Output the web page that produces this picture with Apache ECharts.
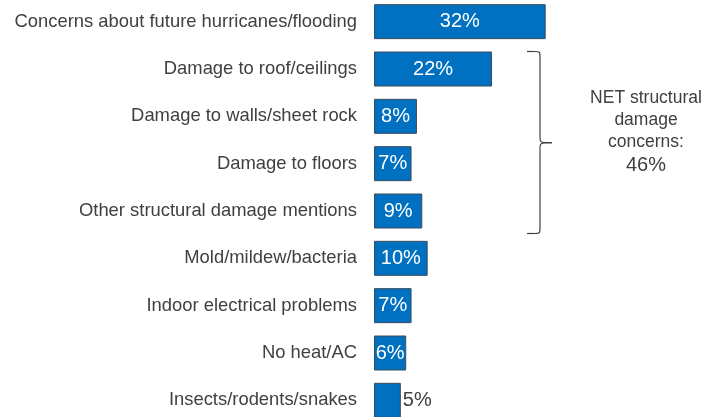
<!DOCTYPE html>
<html>
<head>
<meta charset="utf-8">
<style>
  html, body { margin: 0; padding: 0; background: #ffffff; }
  #chart { width: 707px; height: 417px; }
</style>
<script src="https://cdn.jsdelivr.net/npm/echarts@6/dist/echarts.min.js"></script>
</head>
<body>
<div id="chart"></div>
<script>
// Reasons for concern, top to bottom
const categories = [
  'Concerns about future hurricanes/flooding',
  'Damage to roof/ceilings',
  'Damage to walls/sheet rock',
  'Damage to floors',
  'Other structural damage mentions',
  'Mold/mildew/bacteria',
  'Indoor electrical problems',
  'No heat/AC',
  'Insects/rodents/snakes'
];
const values = [32, 22, 8, 7, 9, 10, 7, 6, 5];
const netLabel = ['NET structural', 'damage', 'concerns:'];
const netValue = '46%';

const chart = echarts.init(document.getElementById('chart'), null, { renderer: 'canvas' });

const data = values.map(function (v) {
  const item = { value: v };
  if (v < 6) {
    item.label = { position: 'right', color: '#404040', distance: 2 };
  }
  return item;
});

// Curly brace grouping the structural damage rows
const braceStroke = { stroke: '#404040', lineWidth: 1.2, fill: 'none' };
function curve(x1, y1, cx, cy, x2, y2) {
  return {
    type: 'bezierCurve',
    shape: { x1: x1, y1: y1, cpx1: cx, cpy1: cy, cpx2: cx, cpy2: cy, x2: x2, y2: y2 },
    style: braceStroke
  };
}
function seg(x1, y1, x2, y2) {
  return { type: 'line', shape: { x1: x1, y1: y1, x2: x2, y2: y2 }, style: braceStroke };
}

const netText = netLabel.map(function (s) { return '{t|' + s + '}'; }).join('\n') +
  '\n{v|' + netValue + '}';

chart.setOption({
  animation: false,
  grid: {
    left: 374, top: -2, width: 171.7, height: 426,
    containLabel: false, outerBoundsMode: 'none'
  },
  xAxis: {
    type: 'value', min: 0, max: 32,
    show: false
  },
  yAxis: {
    type: 'category',
    data: categories,
    inverse: true,
    axisLine: { show: false },
    axisTick: { show: false },
    axisLabel: {
      color: '#404040',
      fontFamily: 'Liberation Sans, Arial, sans-serif',
      fontSize: 18.4,
      margin: 17
    }
  },
  series: [{
    type: 'bar',
    data: data,
    barWidth: 35,
    itemStyle: { color: '#0070C0', borderColor: '#3B4B5B', borderWidth: 1 },
    label: {
      show: true,
      position: 'inside',
      formatter: '{c}%',
      color: '#ffffff',
      fontFamily: 'Liberation Sans, Arial, sans-serif',
      fontSize: 20
    }
  }],
  graphic: [
    seg(527, 51.5, 534, 51.5),
    curve(534, 51.5, 540, 51.5, 540, 57),
    seg(540, 57, 540, 137),
    curve(540, 137, 540, 142.7, 552, 142.7),
    curve(552, 142.7, 540, 142.7, 540, 148.5),
    seg(540, 148.5, 540, 228),
    curve(540, 228, 540, 233.5, 534, 233.5),
    seg(534, 233.5, 527, 233.5),
    {
      type: 'text',
      x: 646,
      y: 86.5,
      style: {
        text: netText,
        align: 'center',
        verticalAlign: 'top',
        fill: '#404040',
        rich: {
          t: { fontFamily: 'Liberation Sans, Arial, sans-serif', fontSize: 17.5, lineHeight: 22.4, align: 'center', fill: '#404040' },
          v: { fontFamily: 'Liberation Sans, Arial, sans-serif', fontSize: 20, lineHeight: 24, align: 'center', fill: '#404040' }
        }
      }
    }
  ]
});
</script>
</body>
</html>
